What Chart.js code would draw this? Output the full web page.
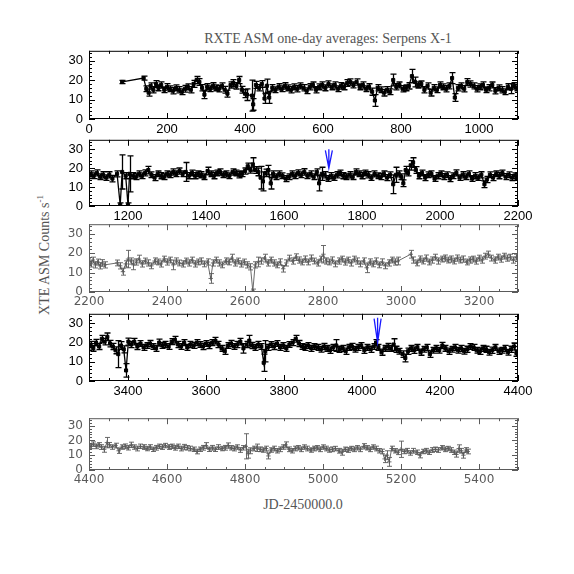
<!DOCTYPE html>
<html>
<head>
<meta charset="utf-8">
<title>RXTE ASM one-day averages: Serpens X-1</title>
<script src="https://cdn.jsdelivr.net/npm/chart.js@4.4.1/dist/chart.umd.min.js"></script>
<style>
    html, body { margin: 0; padding: 0; background: #fff; }
    #page { position: relative; width: 574px; height: 574px; overflow: hidden; }
    #page canvas { position: absolute; left: 0; }
    .lbl { position: absolute; white-space: nowrap; color: #555; }
    #title { left: 0; width: 656px; top: 31px; text-align: center; font: 14px 'Liberation Serif'; }
    #xlabel { left: 0; width: 606px; top: 497px; text-align: center; font: 14px 'Liberation Serif'; }
    #ylabel { left: 44px; top: 255px; transform: translate(-50%, -50%) rotate(-90deg); font: 14px 'Liberation Serif'; }
    #ylabel sup { font-size: 9px; }
</style>
</head>
<body>
<div id="page">
    <div id="title" class="lbl">RXTE ASM one-day averages: Serpens X-1</div>
    <div id="ylabel" class="lbl">XTE ASM Counts s<sup>-1</sup></div>
    <div id="xlabel" class="lbl">JD-2450000.0</div>
</div>
<script>
// --- data (day = JD-2450000.0, rate in counts/s) ---
const days = [
    85, 140, 147, 153, 158, 165, 172, 178, 185, 193,
    200, 207, 215, 223, 230, 238, 246, 253, 261, 268, 276, 283, 290, 296,
    303, 311, 318, 326, 333, 341, 348, 355, 363, 370, 378, 385, 392,
    400, 405, 418, 421, 428, 436, 443, 450, 456, 462,
    470, 478, 486, 494, 502, 510, 518, 526, 534, 542, 550, 558, 566, 574, 582, 590, 598,
    606, 614, 622, 630, 638, 646, 654, 662, 670, 678, 686, 694, 702,
    710, 718, 726, 733, 740, 748, 756, 764, 772, 780,
    788, 796, 804, 812, 820, 828, 836, 844, 852, 860,
    868, 876, 884, 892, 900, 908, 916, 924, 931, 938,
    946, 954, 962, 970, 978, 986, 994,
    1002, 1010, 1018, 1026, 1034, 1042, 1050, 1058, 1066, 1074, 1082, 1090, 1098,
    // panel 2
    1104, 1112, 1120, 1128, 1136, 1144, 1152, 1160, 1172, 1180,
    1185, 1194, 1200, 1204, 1212, 1220, 1228, 1236, 1244, 1252,
    1260, 1268, 1276, 1284, 1292, 1300, 1308, 1316, 1324, 1332,
    1340, 1348, 1356, 1364, 1372, 1380, 1388, 1396, 1404, 1412,
    1420, 1428, 1436, 1444, 1452, 1460, 1468, 1476, 1484, 1492,
    1500, 1507, 1514, 1520, 1527, 1534, 1540, 1546, 1553, 1560,
    1566, 1572, 1580, 1588, 1596, 1604, 1612, 1620, 1628, 1636,
    1644, 1652, 1660, 1668, 1676, 1684, 1690, 1697, 1704, 1712,
    1720, 1728, 1736, 1744, 1752, 1760, 1768, 1776, 1784, 1792,
    1800, 1808, 1816, 1824, 1832, 1840, 1848, 1856, 1864, 1872,
    1880, 1887, 1894, 1901, 1906, 1912, 1918, 1925, 1931, 1938,
    1946, 1954, 1962, 1970, 1978, 1986, 1994, 2002, 2010, 2018,
    2026, 2034, 2042, 2050, 2058, 2066, 2074, 2082, 2090, 2098,
    2106, 2114, 2120, 2128, 2136, 2144, 2152, 2160, 2168, 2176,
    2184, 2192, 2198,
    // panel 3
    2204, 2210, 2216, 2222, 2228, 2234, 2240, 2272, 2280, 2287,
    2294, 2300, 2307, 2314, 2321, 2328, 2336, 2344, 2352, 2360,
    2368, 2376, 2384, 2392, 2400, 2408, 2416, 2424, 2432, 2440,
    2448, 2456, 2464, 2472, 2480, 2488, 2496, 2504, 2512, 2518,
    2526, 2534, 2542, 2550, 2558, 2566, 2574, 2582, 2590, 2598,
    2606, 2614, 2620, 2626, 2634, 2642, 2650, 2658, 2666, 2674,
    2682, 2690, 2698, 2706, 2714, 2722, 2730, 2738, 2746, 2754,
    2762, 2770, 2778, 2786, 2794, 2801, 2808, 2816, 2824, 2832,
    2840, 2848, 2856, 2864, 2872, 2880, 2888, 2896, 2904, 2912,
    2920, 2928, 2936, 2944, 2952, 2960, 2968, 2976, 2984, 2992,
    3025, 3032, 3040, 3048, 3056, 3064, 3072, 3080, 3088, 3096,
    3104, 3112, 3120, 3128, 3136, 3144, 3152, 3160, 3168, 3176,
    3184, 3192, 3200, 3208, 3216, 3224, 3232, 3240, 3248, 3256,
    3264, 3272, 3280, 3288, 3296,
    // panel 4
    3304, 3311, 3318, 3326, 3333, 3340, 3347, 3354, 3361, 3368,
    3375, 3382, 3389, 3395, 3401, 3408, 3416, 3424, 3432, 3440,
    3448, 3456, 3464, 3472, 3480, 3488, 3496, 3504, 3512, 3520,
    3528, 3536, 3544, 3552, 3560, 3568, 3576, 3584, 3592, 3600,
    3608, 3616, 3624, 3632, 3640, 3648, 3656, 3664, 3672, 3680,
    3688, 3696, 3704, 3711, 3718, 3726, 3734, 3742, 3748, 3752,
    3758, 3766, 3774, 3782, 3790, 3798, 3806, 3814, 3822, 3830,
    3838, 3846, 3854, 3862, 3870, 3878, 3886, 3894, 3902, 3910,
    3918, 3926, 3934, 3942, 3950, 3958, 3966, 3974, 3982, 3990,
    3998, 4006, 4014, 4022, 4030, 4036, 4042, 4050, 4058, 4066,
    4074, 4081, 4088, 4096, 4104, 4111, 4118, 4126, 4134, 4142,
    4150, 4158, 4166, 4174, 4182, 4190, 4198, 4206, 4214, 4222,
    4230, 4238, 4246, 4254, 4262, 4270, 4278, 4286, 4294, 4302,
    4310, 4318, 4326, 4334, 4342, 4350, 4358, 4366, 4374, 4382,
    4390, 4396,
    // panel 5
    4404, 4411, 4418, 4425, 4432, 4439, 4446, 4452, 4460, 4468,
    4476, 4484, 4492, 4500, 4508, 4516, 4524, 4532, 4540, 4548,
    4556, 4564, 4572, 4580, 4588, 4596, 4604, 4612, 4620, 4628,
    4636, 4644, 4652, 4660, 4668, 4676, 4684, 4692, 4700, 4708,
    4716, 4724, 4732, 4740, 4748, 4756, 4764, 4772, 4780, 4788,
    4796, 4802, 4808, 4814, 4822, 4830, 4838, 4846, 4854, 4860,
    4866, 4874, 4882, 4890, 4898, 4904, 4912, 4920, 4928, 4936,
    4944, 4952, 4960, 4968, 4976, 4984, 4992, 5000, 5008, 5016,
    5024, 5032, 5040, 5048, 5056, 5064, 5072, 5080, 5088, 5096,
    5104, 5112, 5120, 5128, 5136, 5144, 5152, 5158, 5164, 5170,
    5176, 5184, 5192, 5200, 5208, 5216, 5224, 5232, 5240, 5248,
    5256, 5264, 5272, 5280, 5288, 5296, 5304, 5312, 5320, 5328,
    5336, 5342, 5348, 5354, 5360, 5366, 5371
];

const rate = [
    19.0, 21.0, 15.5, 13.5, 17.0, 15.0, 18.0, 16.0, 17.5, 15.0,
    16.5, 15.5, 14.5, 16.0, 15.0, 14.0, 15.5, 16.5, 15.0, 18.0, 20.0, 19.0, 16.0, 12.5,
    16.5, 15.5, 17.0, 16.0, 15.5, 17.0, 15.0, 13.0, 17.5, 18.5, 17.0, 20.0, 15.0,
    13.0, 12.5, 12.0, 7.5, 17.5, 16.0, 18.0, 10.5, 17.0, 11.0,
    16.0, 15.0, 16.5, 15.5, 17.0, 16.0, 15.0, 16.5, 15.5, 17.0, 16.0, 14.5, 16.5, 17.5, 15.0, 16.5, 17.5,
    16.0, 18.0, 16.5, 17.5, 15.5, 17.0, 16.5, 18.5, 19.0, 17.5, 19.0, 16.5, 17.5,
    15.5, 16.5, 14.0, 9.5, 16.0, 15.0, 13.5, 15.0, 14.0, 20.0,
    16.5, 17.5, 15.5, 16.0, 17.0, 22.0, 19.0, 17.5, 18.0, 15.0,
    17.0, 13.5, 16.0, 15.0, 17.5, 16.5, 15.5, 17.0, 21.0, 11.0,
    16.0, 17.0, 15.5, 19.0, 18.0, 17.0, 15.5,
    16.5, 17.5, 15.0, 16.0, 17.5, 14.5, 16.0, 15.0, 14.0, 16.5, 15.5, 17.0, 16.0,
    // panel 2
    17.0, 16.0, 17.5, 15.5, 16.5, 15.0, 16.5, 14.5, 17.0, 0.5,
    18.0, 16.0, 0.5, 17.0, 16.0, 15.5, 17.0, 16.0, 17.5, 19.0,
    16.5, 15.0, 17.0, 16.0, 15.5, 17.0, 16.5, 18.0, 17.0, 18.5,
    17.0, 18.0, 16.0, 17.5, 16.0, 17.0, 16.5, 15.5, 18.5, 17.0,
    16.0, 17.5, 18.0, 16.5, 17.0, 16.0, 18.0, 17.5, 16.5, 17.0,
    18.5, 21.0, 19.0, 22.0, 19.0, 18.0, 15.0, 13.0, 17.5, 19.0,
    12.0, 17.0, 15.5, 17.0, 16.0, 14.5, 15.5, 17.0, 16.0, 17.5,
    16.5, 18.0, 16.0, 17.0, 15.5, 18.0, 12.0, 17.0, 16.5, 14.5,
    16.0, 15.0, 16.5, 17.5, 16.0, 15.5, 16.5, 15.5, 18.0, 17.0,
    16.0, 17.5, 16.5, 15.0, 17.0, 16.0, 15.5, 17.0, 15.0, 16.5,
    11.5, 16.5, 17.0, 15.5, 12.0, 19.0, 17.5, 21.5, 23.0, 19.0,
    16.0, 17.5, 15.0, 16.5, 17.0, 14.5, 16.0, 17.0, 15.5, 16.5,
    14.5, 16.0, 17.5, 15.0, 16.5, 15.5, 17.0, 14.5, 16.0, 15.0,
    16.5, 11.5, 14.0, 16.5, 15.0, 17.0, 16.0, 17.5, 15.5, 16.5,
    15.0, 16.0, 15.5,
    // panel 3
    14.5, 16.5, 14.0, 15.5, 13.5, 15.0, 14.0, 15.0, 13.5, 10.5,
    14.5, 17.0, 16.0, 14.0, 15.5, 17.0, 14.5, 16.0, 15.0, 13.5,
    16.0, 15.5, 14.5, 17.0, 15.5, 16.5, 14.0, 16.0, 15.0, 14.5,
    16.0, 15.0, 16.5, 14.5, 15.5, 16.0, 14.5, 15.5, 7.0, 15.0,
    16.5, 15.0, 14.0, 16.0, 15.5, 17.5, 15.0, 16.0, 14.5, 15.5,
    14.0, 13.0, 0.5, 14.0, 15.5, 16.0, 17.5, 15.0, 16.5, 15.0,
    14.0, 15.5, 12.0, 15.0, 17.5, 16.0, 18.0, 16.5, 15.5, 17.0,
    15.5, 17.5, 16.0, 15.0, 17.0, 19.5, 16.0, 15.5, 16.5, 14.5,
    16.0, 17.0, 15.5, 16.5, 15.0, 17.0, 16.0, 14.5, 16.0, 12.5,
    15.5, 14.5, 16.0, 14.0, 15.5, 13.5, 15.0, 16.5, 15.5, 16.0,
    19.5, 16.5, 15.0, 17.0, 16.0, 17.5, 15.5, 16.5, 18.0, 16.0,
    17.0, 17.5, 16.5, 17.0, 16.0, 17.5, 16.5, 17.0, 15.5, 16.5,
    17.0, 16.0, 17.5, 16.5, 18.5, 19.5, 17.5, 16.5, 18.0, 17.0,
    18.5, 17.5, 18.0, 16.5, 18.0,
    // panel 4
    19.0, 17.0, 20.0, 18.0, 22.0, 20.5, 23.0, 19.5, 18.0, 16.0,
    14.0, 18.5, 16.5, 5.5, 20.5, 19.0, 20.5, 18.0, 19.5, 17.5,
    18.5, 19.5, 18.0, 17.0, 20.0, 18.5, 19.0, 18.0, 20.5, 21.5,
    19.0, 18.0, 20.0, 17.5, 19.0, 18.5, 20.0, 19.0, 18.0, 19.5,
    18.5, 20.0, 21.0, 19.0, 17.0, 15.5, 18.5, 19.5, 18.0, 19.0,
    20.5, 17.0, 19.0, 21.0, 18.5, 17.5, 19.0, 18.0, 9.5, 15.5,
    17.5, 19.0, 18.0, 19.5, 17.5, 18.5, 17.0, 19.0, 20.0, 22.0,
    19.5, 18.0, 17.5, 18.5, 17.0, 18.0, 17.5, 16.5, 18.0, 17.0,
    16.0, 17.5, 18.5, 16.5, 17.0, 15.5, 17.5, 18.0, 16.5, 17.5,
    18.5, 16.0, 17.5, 16.5, 18.0, 20.0, 17.5, 15.0, 17.0, 18.0,
    17.0, 19.0, 16.5, 15.5, 14.0, 12.0, 15.5, 17.0, 16.0, 17.5,
    15.0, 16.5, 17.5, 14.0, 16.0, 17.0, 16.0, 18.5, 17.0, 15.5,
    16.5, 17.5, 16.0, 17.0, 15.5, 16.5, 18.0, 17.5, 16.0, 15.5,
    17.0, 16.5, 15.0, 16.0, 17.5, 15.5, 16.0, 17.0, 15.0, 16.5,
    18.0, 14.5,
    // panel 5
    16.0, 17.5, 16.0, 17.0, 15.5, 14.0, 18.5, 17.0, 15.5, 16.5,
    13.0, 15.5, 16.0, 15.0, 17.0, 15.5, 14.5, 16.0, 15.5, 14.5,
    15.5, 14.0, 15.0, 16.0, 15.5, 16.5, 15.5, 16.0, 15.0, 16.0,
    14.5, 15.5, 15.0, 14.5, 14.0, 12.5, 14.0, 15.0, 16.5, 14.0,
    15.0, 14.0, 15.5, 14.5, 15.0, 16.5, 15.0, 14.5, 15.5, 13.5,
    15.0, 16.0, 11.0, 13.0, 14.5, 15.0, 14.0, 13.5, 14.5, 9.5,
    13.5, 14.5, 13.0, 14.0, 15.5, 17.0, 14.0, 13.0, 14.5, 15.0,
    14.0, 15.5, 14.5, 13.5, 14.5, 15.0, 14.0, 15.5, 14.5, 13.5,
    14.0, 14.5, 13.0, 12.0, 14.0, 13.5, 14.5, 14.0, 15.0, 14.0,
    16.0, 15.0, 14.0, 15.5, 14.5, 13.0, 12.5, 7.5, 10.0, 5.5,
    14.5, 13.0, 12.0, 14.0, 12.5, 13.0, 11.5, 13.0, 12.0, 10.0,
    12.5, 13.0, 12.0, 13.5, 14.0, 13.5, 15.0, 14.0, 14.5, 13.5,
    12.0, 10.5, 14.5, 13.0, 10.0, 13.5, 12.5
];

const rateErr = [
    0.8, 1.0, 1.5, 1.8, 1.5, 1.6, 1.7, 1.5, 1.6, 1.5,
    1.7, 1.5, 1.6, 1.5, 1.6, 1.5, 1.7, 1.5, 1.6, 1.8, 1.8, 1.7, 1.6, 2.0,
    1.6, 1.5, 1.6, 1.5, 1.6, 1.5, 1.7, 1.8, 1.6, 1.7, 1.6, 1.8, 1.7,
    2.0, 3.0, 8.0, 3.0, 1.8, 1.6, 1.7, 2.5, 3.5, 3.0,
    1.6, 1.5, 1.6, 1.5, 1.6, 1.5, 1.6, 1.5, 1.6, 1.5, 1.6, 1.5, 1.6, 1.5, 1.6, 1.5, 1.6,
    1.5, 1.6, 1.5, 1.6, 1.5, 1.6, 1.5, 1.7, 1.6, 1.5, 1.6, 1.5, 1.6,
    1.5, 1.6, 1.8, 3.0, 1.6, 1.5, 1.7, 1.6, 1.5, 3.0,
    1.6, 1.5, 1.6, 1.5, 1.6, 3.5, 2.5, 1.6, 1.5, 1.6,
    1.5, 1.7, 1.6, 1.5, 1.6, 1.5, 1.6, 1.5, 2.8, 2.0,
    1.6, 1.5, 1.6, 1.7, 1.6, 1.5, 1.6,
    1.5, 1.6, 1.5, 1.6, 1.5, 1.6, 1.5, 1.6, 1.5, 1.6, 2.5, 1.6, 1.5,
    // panel 2
    1.6, 1.5, 1.6, 1.5, 1.6, 1.5, 1.6, 1.7, 1.6, 1.2,
    9.0, 1.6, 1.2, 9.5, 1.6, 1.5, 1.6, 1.5, 1.6, 2.0,
    1.5, 1.6, 1.5, 1.6, 1.5, 1.6, 1.5, 1.6, 1.5, 1.6,
    1.5, 5.0, 1.6, 1.5, 1.6, 1.5, 1.6, 1.5, 2.0, 1.5,
    1.6, 1.5, 1.6, 1.5, 1.6, 1.5, 1.6, 1.5, 1.6, 1.5,
    1.6, 1.7, 1.6, 3.5, 1.8, 2.0, 6.0, 5.0, 2.0, 2.5,
    3.0, 1.6, 1.5, 1.6, 1.5, 1.6, 1.5, 1.6, 1.5, 1.6,
    1.5, 1.7, 1.5, 1.6, 1.5, 1.6, 4.0, 3.5, 1.6, 1.5,
    1.6, 1.5, 1.6, 1.5, 1.6, 1.5, 1.6, 1.5, 1.6, 1.5,
    1.6, 1.5, 1.6, 1.5, 1.6, 1.5, 1.6, 1.5, 1.6, 1.5,
    5.0, 4.0, 1.6, 1.5, 1.8, 2.0, 1.6, 2.5, 2.5, 1.8,
    1.6, 1.5, 1.6, 1.5, 1.6, 1.5, 1.6, 1.5, 1.6, 1.5,
    1.6, 1.5, 1.6, 1.5, 1.6, 1.5, 1.6, 1.5, 1.6, 1.5,
    1.6, 1.8, 1.6, 1.5, 1.6, 1.5, 1.6, 1.5, 1.6, 1.5,
    1.6, 1.5, 1.6,
    // panel 3
    1.6, 1.5, 1.6, 1.5, 1.6, 1.7, 1.6, 1.5, 1.6, 1.8,
    1.6, 4.5, 1.6, 2.5, 1.6, 2.0, 1.6, 1.5, 1.6, 1.5,
    1.6, 1.5, 1.6, 1.5, 1.6, 1.5, 2.5, 1.6, 1.5, 1.6,
    1.5, 1.6, 1.5, 1.6, 1.5, 1.6, 1.5, 1.6, 2.5, 1.6,
    1.5, 1.6, 1.5, 1.6, 1.5, 2.0, 1.6, 1.5, 1.6, 1.5,
    1.6, 1.6, 1.0, 1.6, 2.5, 1.6, 2.0, 1.6, 1.5, 1.6,
    1.5, 1.6, 1.7, 1.6, 1.5, 1.6, 1.7, 1.6, 1.5, 1.6,
    1.5, 1.6, 1.5, 1.6, 1.5, 4.5, 1.6, 1.5, 1.6, 1.5,
    1.6, 1.5, 1.6, 1.5, 1.6, 1.5, 1.6, 1.5, 1.6, 2.5,
    1.6, 1.5, 1.6, 1.5, 1.6, 1.5, 1.6, 1.5, 1.6, 2.0,
    2.0, 1.6, 1.5, 1.6, 1.5, 1.6, 1.5, 1.6, 1.5, 1.6,
    1.5, 1.6, 1.5, 1.6, 1.5, 1.6, 1.5, 1.6, 1.5, 1.6,
    1.5, 1.6, 1.5, 1.6, 1.5, 1.6, 1.5, 1.6, 1.5, 1.6,
    1.5, 1.6, 1.5, 1.6, 1.5,
    // panel 4
    1.6, 1.5, 1.7, 1.6, 1.8, 1.7, 2.0, 1.7, 1.6, 1.8,
    7.0, 2.0, 1.8, 3.5, 1.8, 1.6, 1.7, 1.6, 1.5, 1.6,
    1.5, 1.6, 1.5, 1.6, 1.8, 1.5, 1.6, 1.5, 1.6, 1.7,
    1.6, 1.5, 1.6, 1.5, 1.6, 1.5, 1.6, 1.5, 1.6, 1.5,
    1.6, 1.5, 1.7, 1.6, 1.5, 1.6, 1.5, 1.6, 1.5, 1.6,
    1.7, 2.5, 1.6, 2.8, 1.6, 1.5, 1.6, 1.5, 4.5, 5.5,
    1.6, 1.5, 1.6, 1.5, 1.6, 1.5, 1.6, 1.5, 1.6, 1.8,
    1.6, 1.5, 1.6, 1.5, 1.6, 1.5, 1.6, 1.5, 1.6, 1.5,
    1.6, 1.5, 3.0, 1.6, 1.5, 1.6, 1.5, 1.6, 1.5, 1.6,
    1.5, 1.6, 1.5, 1.6, 1.5, 1.6, 1.5, 1.6, 1.5, 1.6,
    1.5, 3.0, 1.6, 1.5, 1.7, 2.0, 1.6, 1.5, 1.6, 1.5,
    1.6, 1.5, 1.6, 1.7, 1.5, 1.6, 1.5, 1.6, 1.5, 1.6,
    1.5, 1.6, 1.5, 1.6, 1.5, 1.6, 1.5, 1.6, 1.5, 1.6,
    1.5, 1.6, 1.5, 1.6, 1.5, 1.6, 1.5, 1.6, 1.5, 1.6,
    1.8, 1.6,
    // panel 5
    1.6, 1.5, 1.6, 1.5, 1.6, 2.0, 3.5, 1.6, 1.5, 1.6,
    1.8, 1.5, 1.6, 1.5, 1.8, 1.5, 1.6, 1.5, 1.6, 1.5,
    1.6, 1.5, 1.6, 1.5, 1.6, 1.5, 1.6, 1.5, 1.6, 1.5,
    1.6, 1.8, 1.5, 1.6, 1.5, 1.6, 1.5, 1.6, 2.0, 1.5,
    1.6, 1.5, 1.6, 1.5, 1.6, 1.8, 1.5, 1.6, 1.5, 1.6,
    1.5, 8.5, 3.0, 2.0, 1.6, 2.5, 1.6, 1.5, 1.6, 2.0,
    1.5, 1.6, 1.5, 1.6, 1.5, 2.0, 1.6, 1.5, 1.6, 1.5,
    1.6, 1.5, 1.6, 1.5, 1.6, 1.5, 1.6, 1.5, 1.6, 1.5,
    1.6, 1.5, 1.6, 2.0, 1.5, 1.6, 1.5, 1.6, 1.5, 1.6,
    1.8, 1.5, 1.6, 1.5, 1.6, 1.5, 1.6, 2.5, 3.0, 3.0,
    1.6, 1.5, 1.6, 5.5, 1.5, 1.6, 1.5, 1.6, 1.5, 1.8,
    1.5, 1.6, 1.5, 1.6, 1.5, 1.6, 1.5, 1.6, 1.5, 1.6,
    1.5, 1.8, 2.5, 1.6, 2.0, 1.6, 1.6
];

// one panel per 1100 days
const panelStart = [0, 1100, 2200, 3300, 4400];
const panelEnd = [1100, 2200, 3300, 4400, 5500];
const xTickValues = [0, 200, 400, 600, 800, 1000, 1200, 1400, 1600, 1800, 2000, 2200,
    2400, 2600, 2800, 3000, 3200, 3400, 3600, 3800, 4000, 4200, 4400,
    4600, 4800, 5000, 5200, 5400];
const yTickValues = [0, 10, 20, 30];

// blue arrows (day, from rate, to rate)
const arrowDay = [1715, 4040];
const arrowFrom = [30, 33];
const arrowTo = [20, 20];

if (days.length !== rate.length || days.length !== rateErr.length) {
    console.error('data length mismatch', days.length, rate.length, rateErr.length);
}

// --- layout of the five panels (plot area in page pixels) ---
const plotLeft = 89, plotRight = 518;
const panelTop = [49, 138, 223, 312, 417];
const panelBottom = [119, 206, 292, 381, 470];
const faint = [false, false, true, false, true];
const padTop = 12, axisHeight = 28;

const errorBarsAndFrame = {
    id: 'errorBarsAndFrame',
    beforeDatasetsDraw(chart) {
        const ctx = chart.ctx, a = chart.chartArea;
        const xs = chart.scales.x, ys = chart.scales.y;
        const ds = chart.data.datasets[0];
        const cap = chart.options.plugins.errorBarsAndFrame.cap;
        ctx.save();
        ctx.beginPath();
        ctx.rect(a.left, a.top, a.right - a.left, a.bottom - a.top);
        ctx.clip();
        ctx.strokeStyle = ds.borderColor;
        ctx.lineWidth = ds.borderWidth;
        ctx.beginPath();
        ds.data.forEach((p, i) => {
            const px = Math.round(xs.getPixelForValue(p.x)) + 0.5;
            const lo = ys.getPixelForValue(p.y - ds.errors[i]);
            const hi = ys.getPixelForValue(p.y + ds.errors[i]);
            ctx.moveTo(px, lo); ctx.lineTo(px, hi);
            ctx.moveTo(px - cap, lo); ctx.lineTo(px + cap, lo);
            ctx.moveTo(px - cap, hi); ctx.lineTo(px + cap, hi);
        });
        ctx.stroke();
        ctx.restore();
    },
    afterDraw(chart) {
        const ctx = chart.ctx, a = chart.chartArea;
        const xs = chart.scales.x, ys = chart.scales.y;
        const opts = chart.options.plugins.errorBarsAndFrame;
        ctx.save();
        ctx.strokeStyle = opts.frameColor;
        ctx.lineWidth = 1;
        ctx.strokeRect(a.left + 0.5, a.top + 0.5, a.right - a.left - 1, a.bottom - a.top - 1);
        ctx.beginPath();
        // x ticks, every 50 days, longer at the labelled ones
        for (let v = xs.min; v <= xs.max; v += 50) {
            const px = Math.round(xs.getPixelForValue(v)) + 0.5;
            const len = v % 200 === 0 ? 6 : 3;
            ctx.moveTo(px, a.bottom); ctx.lineTo(px, a.bottom - len);
            ctx.moveTo(px, a.top); ctx.lineTo(px, a.top + len);
        }
        // y ticks, every 2 counts
        for (let v = 0; v <= ys.max; v += 2) {
            const py = Math.round(ys.getPixelForValue(v)) + 0.5;
            const len = v % 10 === 0 ? 6 : 3;
            ctx.moveTo(a.left, py); ctx.lineTo(a.left + len, py);
            ctx.moveTo(a.right, py); ctx.lineTo(a.right - len, py);
        }
        ctx.stroke();
        // arrows marking events
        ctx.strokeStyle = '#1a1aff';
        ctx.lineWidth = 1.3;
        arrowDay.forEach((d, i) => {
            if (d < xs.min || d > xs.max) return;
            const px = xs.getPixelForValue(d);
            const y0 = ys.getPixelForValue(arrowFrom[i]);
            const y1 = ys.getPixelForValue(arrowTo[i]);
            ctx.beginPath();
            ctx.moveTo(px, y0); ctx.lineTo(px, y1);
            ctx.moveTo(px - 3.5, y0 + 1); ctx.lineTo(px, y1);
            ctx.lineTo(px + 3.5, y0 + 1);
            ctx.stroke();
        });
        ctx.restore();
    }
};

const page = document.getElementById('page');

panelStart.forEach((start, i) => {
    const end = panelEnd[i];
    const canvas = document.createElement('canvas');
    canvas.width = 574;
    canvas.height = panelBottom[i] - panelTop[i] + padTop + axisHeight;
    canvas.style.top = (panelTop[i] - padTop) + 'px';
    page.appendChild(canvas);

    const points = [], errors = [];
    days.forEach((d, k) => {
        if (d >= start - 30 && d <= end + 30) {
            points.push({ x: d, y: rate[k] });
            errors.push(rateErr[k]);
        }
    });

    const ink = faint[i] ? '#5a5a5a' : '#000000';
    const tickFont = faint[i]
        ? { family: "'DejaVu Sans'", size: 12 }
        : { family: "'Liberation Sans'", size: 13 };

    new Chart(canvas, {
        type: 'line',
        data: {
            datasets: [{
                data: points,
                errors: errors,
                borderColor: ink,
                backgroundColor: ink,
                borderWidth: faint[i] ? 0.9 : 1.3,
                pointStyle: faint[i] ? 'cross' : 'rect',
                pointRadius: faint[i] ? 2.2 : 2.2,
                pointBorderWidth: faint[i] ? 0.9 : 1,
                tension: 0,
                fill: false
            }]
        },
        options: {
            responsive: false,
            animation: false,
            events: [],
            layout: { padding: { top: padTop, right: 574 - plotRight, left: 0, bottom: 0 } },
            plugins: {
                legend: { display: false },
                tooltip: { enabled: false },
                errorBarsAndFrame: { frameColor: ink, cap: faint[i] ? 2.5 : 3 }
            },
            scales: {
                x: {
                    type: 'linear',
                    min: start,
                    max: end,
                    grid: { display: false, drawTicks: false },
                    border: { display: false },
                    afterBuildTicks(scale) {
                        scale.ticks = xTickValues.filter(v => v >= start && v <= end).map(v => ({ value: v }));
                    },
                    afterFit(scale) { scale.height = axisHeight; },
                    ticks: {
                        autoSkip: false,
                        maxRotation: 0,
                        padding: 3,
                        color: ink,
                        font: tickFont,
                        callback: v => String(v)
                    }
                },
                y: {
                    min: 0,
                    max: 35,
                    grid: { display: false, drawTicks: false },
                    border: { display: false },
                    afterBuildTicks(scale) {
                        scale.ticks = yTickValues.map(v => ({ value: v }));
                    },
                    afterFit(scale) { scale.width = plotLeft; },
                    ticks: {
                        autoSkip: false,
                        padding: 6,
                        color: ink,
                        font: tickFont,
                        callback: v => String(v)
                    }
                }
            }
        },
        plugins: [errorBarsAndFrame]
    });
});
</script>
</body>
</html>
